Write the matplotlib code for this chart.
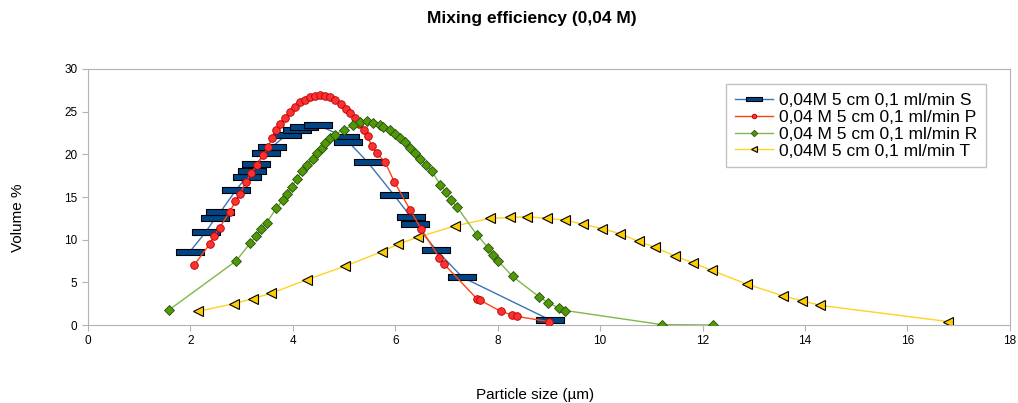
import numpy as np
import matplotlib
matplotlib.use("Agg")
import matplotlib.pyplot as plt
from matplotlib.path import Path

plt.rcParams['font.family'] = ['Liberation Sans', 'DejaVu Sans']

# serie S (0,04M 5 cm 0,1 ml/min S)
s_x = [1.99, 2.30, 2.48, 2.58, 2.89, 3.10, 3.20, 3.29, 3.47, 3.60, 3.88, 4.08, 4.22,
       4.50, 5.02, 5.08, 5.46, 5.98, 6.30, 6.39, 6.80, 7.31, 9.02]
s_y = [8.6, 10.9, 12.5, 13.2, 15.8, 17.4, 18.1, 18.9, 20.2, 20.9, 22.3, 22.9, 23.2,
       23.4, 22.0, 21.5, 19.1, 15.2, 12.7, 11.8, 8.8, 5.6, 0.6]

# serie P
p_x = [2.07, 2.38, 2.46, 2.57, 2.77, 2.88, 2.97, 3.08, 3.18, 3.31, 3.42, 3.52, 3.59,
       3.67, 3.75, 3.85, 3.95, 4.04, 4.14, 4.24, 4.34, 4.43, 4.53, 4.63, 4.73, 4.82,
       4.95, 5.04, 5.12, 5.21, 5.30, 5.38, 5.46, 5.54, 5.64, 5.80, 5.98, 6.29, 6.50,
       6.86, 6.96, 7.59, 7.66, 8.06, 8.27, 8.38, 9.00]
p_y = [7.0, 9.5, 10.4, 11.4, 13.3, 14.5, 15.4, 16.7, 17.8, 18.8, 19.9, 20.9, 21.9,
       22.9, 23.6, 24.3, 25.0, 25.6, 26.1, 26.4, 26.7, 26.8, 26.9, 26.8, 26.7, 26.4,
       25.9, 25.3, 24.8, 24.2, 23.6, 22.9, 22.1, 21.0, 20.1, 19.1, 16.8, 13.5, 11.3,
       7.9, 7.1, 3.1, 2.9, 1.6, 1.2, 1.0, 0.4]

# serie R
r_x = [1.59, 2.89, 3.17, 3.28, 3.38, 3.49, 3.68, 3.80, 3.88, 3.98, 4.08, 4.17, 4.27,
       4.39, 4.47, 4.56, 4.63, 4.73, 4.82, 4.99, 5.18, 5.31, 5.44, 5.57, 5.70, 5.77,
       5.90, 6.00, 6.09, 6.19, 6.29, 6.39, 6.48, 6.60, 6.71, 6.88, 6.99, 7.08, 7.21,
       7.59, 7.82, 7.91, 8.01, 8.29, 8.81, 8.99, 9.19, 9.32, 11.2, 12.21]
r_y = [1.8, 7.5, 9.6, 10.4, 11.2, 12.0, 13.7, 14.6, 15.4, 16.2, 17.1, 18.0, 18.8,
       19.5, 20.1, 20.7, 21.3, 21.9, 22.3, 22.9, 23.4, 23.8, 23.9, 23.7, 23.4, 23.2,
       22.8, 22.4, 21.9, 21.4, 20.8, 20.2, 19.5, 18.8, 18.1, 16.4, 15.6, 14.7, 13.8,
       10.6, 9.0, 8.2, 7.5, 5.7, 3.3, 2.6, 2.0, 1.7, 0.05, 0.0]

# serie T
t_x = [2.15, 2.85, 3.22, 3.57, 4.27, 5.02, 5.74, 6.06, 6.45, 7.16, 7.85, 8.24, 8.57,
       8.96, 9.32, 9.67, 10.04, 10.39, 10.75, 11.07, 11.46, 11.81, 12.18, 12.86,
       13.58, 13.94, 14.30, 16.80]
t_y = [1.6, 2.5, 3.1, 3.7, 5.3, 6.9, 8.6, 9.5, 10.3, 11.6, 12.5, 12.6, 12.7, 12.5,
       12.3, 11.8, 11.3, 10.7, 9.8, 9.1, 8.1, 7.3, 6.4, 4.8, 3.4, 2.85, 2.3, 0.4]

etiquetas = ["0,04M 5 cm 0,1 ml/min S", "0,04 M 5 cm 0,1 ml/min P",
             "0,04 M 5 cm 0,1 ml/min R", "0,04M 5 cm 0,1 ml/min T"]

# marcador rectangular plano
rect = Path([(-1, -0.22), (1, -0.22), (1, 0.22), (-1, 0.22), (-1, -0.22)],
            [Path.MOVETO, Path.LINETO, Path.LINETO, Path.LINETO, Path.CLOSEPOLY])

fig = plt.figure(figsize=(10.18, 4.03), dpi=100)
ax = fig.add_axes([0.0864, 0.1935, 0.9056, 0.6353])

ax.plot(s_x, s_y, color='#3b73b9', lw=1, marker=rect, ms=20, mfc='#004586',
        mec='black', mew=0.8, label=etiquetas[0], zorder=3)
ax.plot(p_x, p_y, color='#ff420e', lw=1, marker='o', ms=5.5, mfc='#ff3030',
        mec='#b00000', mew=0.6, label=etiquetas[1], zorder=4)
ax.plot(r_x, r_y, color='#7fb84a', lw=1, marker='D', ms=5.5, mfc='#4e9a06',
        mec='#2d4a10', mew=0.6, label=etiquetas[2], zorder=5)
ax.plot(t_x, t_y, color='#ffd320', lw=1, marker='<', ms=7.5, mfc='#ffcc00',
        mec='black', mew=0.8, label=etiquetas[3], zorder=2)

ax.set_xlim(0, 18)
ax.set_ylim(0, 30)
ax.set_xticks(range(0, 19, 2))
ax.set_yticks(range(0, 31, 5))
for sp in ax.spines.values():
    sp.set_color('#b3b3b3')
ax.tick_params(colors='#b3b3b3', labelcolor='black', labelsize=8.5, length=4,
               direction='out')

# titulo y ejes en posiciones fijas
fig.text(0.522, 0.955, "Mixing efficiency (0,04 M)", fontsize=12.5,
         fontweight='bold', ha='center', va='center')
fig.text(0.526, 0.02, "Particle size (µm)", fontsize=11, ha='center', va='center')
fig.text(0.018, 0.46, "Volume %", fontsize=11, rotation=90, ha='center', va='center')

leg = ax.legend(loc='upper right', bbox_to_anchor=(0.983, 0.975), fontsize=12.5,
                frameon=True, fancybox=False, handlelength=2.2, handletextpad=0.3,
                borderpad=0.5, labelspacing=0.1, markerscale=0.6)
leg.get_frame().set_edgecolor('#b3b3b3')
leg.get_frame().set_linewidth(1)

fig.savefig("out.png", dpi=100)
